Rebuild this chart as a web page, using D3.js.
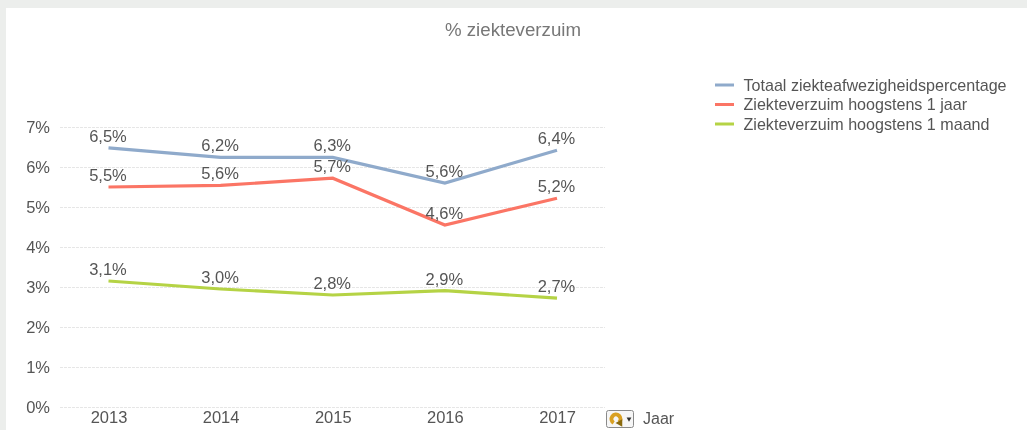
<!DOCTYPE html>
<html><head><meta charset="utf-8">
<script src="https://cdnjs.cloudflare.com/ajax/libs/d3/7.8.5/d3.min.js"></script>
<style>html,body{margin:0;padding:0;background:#eceeec;overflow:hidden}svg{display:block}text{font-family:"Liberation Sans",Arial,sans-serif;fill:#555}</style>
</head><body><div id="c"></div>
<script>
const years=[2013,2014,2015,2016,2017];
const totaal=[6.48,6.24,6.24,5.6,6.42];
const jaar=[5.5,5.54,5.72,4.55,5.22];
const maand=[3.15,2.95,2.8,2.91,2.72];
const totaalLabels=["6,5%","6,2%","6,3%","5,6%","6,4%"];
const jaarLabels=["5,5%","5,6%","5,7%","4,6%","5,2%"];
const maandLabels=["3,1%","3,0%","2,8%","2,9%","2,7%"];
const yTicks=[0,1,2,3,4,5,6,7];
const seriesNames=["Totaal ziekteafwezigheidspercentage","Ziekteverzuim hoogstens 1 jaar","Ziekteverzuim hoogstens 1 maand"];
const seriesColors=["#8faacb","#fb7565","#b5d345"];
const title="% ziekteverzuim";
const dimension="Jaar";

const W=1027,H=430;
const svg=d3.select("#c").append("svg").attr("width",W).attr("height",H);
const defs=svg.append("defs");
defs.append("filter").attr("id","soft").attr("x","-5%").attr("y","-5%").attr("width","110%").attr("height","110%")
  .append("feGaussianBlur").attr("stdDeviation",0.4);
const g=svg.append("g").attr("filter","url(#soft)");
g.append("rect").attr("x",6).attr("y",8).attr("width",W-6).attr("height",H-8).attr("fill","#fff");

const x=d3.scalePoint().domain(years).range([108.5,557]);
const y=d3.scaleLinear().domain([0,7]).range([407,127]);

const yAxis=g.append("g").attr("transform","translate(60,0)").call(d3.axisLeft(y).tickValues(yTicks).tickSize(0).tickPadding(10).tickFormat(d=>d+"%"));
yAxis.select(".domain").remove();
yAxis.selectAll("text").style("font-size","16.5px").attr("dy","0.36em");
const grid=g.append("g");
grid.selectAll("line").data(yTicks).join("line")
  .attr("x1",60).attr("x2",605).attr("y1",d=>y(d)+0.5).attr("y2",d=>y(d)+0.5)
  .attr("stroke","#e6e6e6").attr("stroke-dasharray","3 1");

const xAxis=g.append("g").attr("transform","translate(0,411)").call(d3.axisBottom(x).tickSize(0).tickPadding(0).tickFormat(d=>d));
xAxis.select(".domain").remove();
xAxis.selectAll("text").style("font-size","16.5px").attr("dy","0.71em");

const line=d3.line().x((d,i)=>x(years[i])).y(d=>y(d));
const series=[[totaal,totaalLabels],[jaar,jaarLabels],[maand,maandLabels]];
series.forEach(([vals,labs],k)=>{
  g.append("path").datum(vals).attr("d",line).attr("fill","none").attr("stroke",seriesColors[k]).attr("stroke-width",3.2).attr("stroke-linejoin","miter");
});
series.forEach(([vals,labs])=>{
  g.append("g").selectAll("text").data(vals).join("text")
    .attr("x",(d,i)=>x(years[i])-.5).attr("y",d=>y(d)-6).attr("text-anchor","middle")
    .style("font-size","16.5px").text((d,i)=>labs[i]);
});

g.append("text").attr("x",513).attr("y",36).attr("text-anchor","middle").style("font-size","18.7px").style("fill","#777").text(title);

const leg=g.append("g");
const ly=d3.scalePoint().domain(seriesNames).range([85,124]);
seriesNames.forEach((n,k)=>{
  leg.append("line").attr("x1",715).attr("x2",734).attr("y1",ly(n)).attr("y2",ly(n)).attr("stroke",seriesColors[k]).attr("stroke-width",3);
  leg.append("text").attr("x",743.5).attr("y",ly(n)+5.5).style("font-size","16.1px").text(n);
});

// cyclic-group icon
const ic=g.append("g").attr("transform","translate(606,410)");
ic.append("rect").attr("x",.5).attr("y",.5).attr("width",27).attr("height",17).attr("rx",2).attr("fill","#f6f6f6").attr("stroke","#8a8a8a");
ic.append("path").attr("d",d3.arc()({innerRadius:2.5,outerRadius:6.5,startAngle:-2.6,endAngle:2.4})).attr("transform","translate(10,9)").attr("fill","#d9a021");
ic.append("path").attr("d",d3.symbol(d3.symbolTriangle,26)()).attr("transform","translate(14,13) rotate(150)").attr("fill","#8a6a10");
ic.append("path").attr("d",d3.symbol(d3.symbolTriangle,10)()).attr("transform","translate(23,9) rotate(180)").attr("fill","#333");
g.append("text").attr("x",643).attr("y",424).style("font-size","16px").text(dimension);
</script></body></html>
